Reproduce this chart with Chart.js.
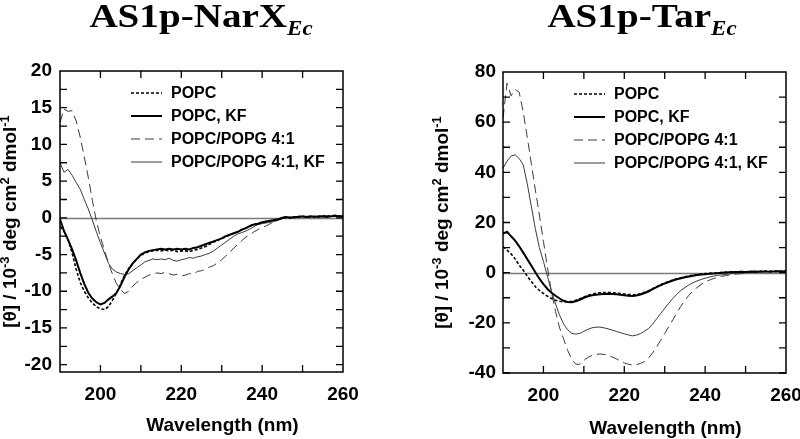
<!DOCTYPE html>
<html>
<head>
<meta charset="utf-8">
<script src="https://cdn.jsdelivr.net/npm/chart.js@4.4.1/dist/chart.umd.min.js"></script>
<style>
  html, body { margin: 0; padding: 0; background: #fff; overflow: hidden; }
  #narx { position: absolute; left: 0; top: 0; }
  #tar { position: absolute; left: 400px; top: 0; }
</style>
</head>
<body>
<canvas id="narx" width="400" height="439"></canvas>
<canvas id="tar" width="420" height="439"></canvas>
<script>
// wavelength (nm), shared by every curve
const wavelength = [190,191,192,193,194,195,196,197,198,199,200,201,202,203,204,205,206,207,208,209,
  210,211,212,213,214,215,216,217,218,219,220,221,222,223,224,225,226,227,228,229,
  230,231,232,233,234,235,236,237,238,239,240,241,242,243,244,245,246,247,248,249,
  250,251,252,253,254,255,256,257,258,259,260];

const seriesLabels = ['POPC', 'POPC, KF', 'POPC/POPG 4:1', 'POPC/POPG 4:1, KF'];

// AS1p-NarX_Ec  ([θ] / 10^-3 deg cm2 dmol-1)
const narxPopc = [-1.2,-1.8,-3.0,-4.8,-7.0,-8.8,-10.0,-10.9,-11.6,-12.1,
  -12.4,-12.5,-12.1,-11.2,-10.2,-9.0,-7.8,-6.9,-6.2,-5.6,
  -5.1,-4.8,-4.6,-4.5,-4.4,-4.5,-4.4,-4.5,-4.4,-4.6,
  -4.5,-4.5,-4.6,-4.4,-4.3,-4.1,-3.9,-3.6,-3.3,-3.1,
  -2.8,-2.6,-2.3,-2.1,-1.9,-1.6,-1.4,-1.1,-0.9,-0.8,
  -0.6,-0.5,-0.4,-0.3,-0.2,0.0,0.1,0.0,0.1,0.2,
  0.1,0.2,0.1,0.2,0.1,0.2,0.3,0.2,0.3,0.2,0.2];
const narxPopcKf = [-0.2,-1.8,-3.0,-4.3,-5.8,-7.5,-9.0,-10.2,-11.0,-11.5,
  -11.8,-11.6,-11.1,-10.7,-10.2,-9.2,-8.0,-7.0,-6.2,-5.6,
  -5.0,-4.7,-4.5,-4.4,-4.3,-4.2,-4.3,-4.2,-4.3,-4.2,
  -4.3,-4.2,-4.3,-4.1,-4.0,-3.8,-3.6,-3.4,-3.2,-3.0,
  -2.8,-2.5,-2.3,-2.1,-1.9,-1.6,-1.4,-1.1,-0.9,-0.8,
  -0.6,-0.5,-0.4,-0.3,-0.2,0.0,0.1,0.0,0.1,0.1,
  0.2,0.1,0.2,0.1,0.2,0.2,0.1,0.2,0.3,0.2,0.2];
const narxPopg = [13.0,14.8,14.5,14.6,13.2,11.0,8.3,5.5,2.4,-0.4,
  -2.6,-4.4,-6.2,-7.7,-9.0,-9.8,-10.3,-10.0,-9.3,-8.8,
  -8.4,-8.1,-7.8,-7.7,-7.5,-7.6,-7.4,-7.6,-7.8,-7.7,
  -7.9,-7.8,-7.6,-7.7,-7.3,-7.2,-7.0,-6.7,-6.5,-6.1,
  -5.7,-5.2,-4.7,-4.1,-3.6,-3.1,-2.6,-2.3,-1.9,-1.6,
  -1.3,-1.1,-0.8,-0.5,-0.3,-0.1,0.0,0.1,0.0,0.1,
  0.2,0.1,0.2,0.1,0.2,0.1,0.2,0.3,0.2,0.2,0.3];
const narxPopgKf = [7.5,6.2,6.6,5.8,4.8,3.9,2.5,1.2,-0.3,-1.9,
  -3.4,-4.8,-6.2,-7.0,-7.4,-7.6,-7.7,-7.6,-7.2,-6.8,
  -6.4,-6.0,-5.8,-5.6,-5.7,-5.6,-5.7,-5.5,-5.8,-5.9,
  -5.7,-5.6,-5.4,-5.5,-5.3,-5.2,-5.0,-4.8,-4.5,-4.1,
  -3.7,-3.3,-2.9,-2.5,-2.2,-2.0,-1.8,-1.5,-1.2,-0.9,
  -0.8,-0.7,-0.6,-0.5,-0.3,-0.1,0.0,0.1,0.0,0.1,
  0.2,0.1,0.2,0.2,0.1,0.2,0.3,0.2,0.2,0.3,0.2];

// AS1p-Tar_Ec
const tarPopc = [10.3,9.0,7.5,5.5,3.0,1.0,-1.4,-3.5,-5.6,-7.1,
  -8.3,-9.4,-10.3,-11.0,-11.4,-11.6,-11.6,-11.4,-11.0,-10.4,
  -9.7,-9.1,-8.6,-8.2,-8.0,-7.9,-7.9,-8.0,-8.1,-8.3,
  -8.5,-8.7,-8.8,-8.7,-8.3,-7.8,-7.2,-6.4,-5.6,-4.8,
  -4.1,-3.5,-2.9,-2.4,-2.0,-1.6,-1.3,-1.0,-0.8,-0.6,
  -0.4,-0.3,-0.2,-0.1,0.0,0.1,0.2,0.2,0.3,0.4,
  0.3,0.4,0.5,0.4,0.5,0.6,0.5,0.5,0.6,0.5,0.6];
const tarPopcKf = [15.6,16.3,14.5,12.8,10.5,8.0,5.4,2.8,0.2,-2.4,
  -4.6,-6.5,-8.0,-9.2,-10.3,-11.2,-11.7,-11.8,-11.4,-10.8,
  -10.0,-9.4,-9.0,-8.8,-8.6,-8.5,-8.4,-8.5,-8.6,-8.8,
  -9.0,-9.2,-9.3,-9.1,-8.7,-8.1,-7.5,-6.6,-5.8,-5.0,
  -4.3,-3.7,-3.1,-2.6,-2.2,-1.8,-1.5,-1.2,-0.9,-0.7,
  -0.6,-0.4,-0.3,-0.2,0.0,0.1,0.2,0.3,0.3,0.4,
  0.3,0.4,0.5,0.4,0.5,0.5,0.4,0.5,0.6,0.5,0.5];
const tarPopg = [61.6,75.5,70.5,73.0,72.0,64.0,54.0,43.5,33.0,23.0,
  12.5,2.0,-8.0,-15.5,-22.0,-26.5,-31.0,-34.5,-36.5,-36.5,
  -35.0,-33.8,-33.0,-32.6,-32.4,-32.6,-33.0,-33.6,-34.3,-35.2,
  -36.0,-36.5,-36.8,-36.7,-36.2,-35.4,-34.0,-32.0,-29.6,-27.0,
  -24.3,-21.5,-18.8,-16.0,-13.4,-11.0,-9.0,-7.3,-5.9,-4.7,
  -3.7,-3.0,-2.4,-1.9,-1.5,-1.2,-0.9,-0.7,-0.5,-0.4,
  -0.2,0.0,0.1,0.2,0.3,0.4,0.5,0.5,0.5,0.6,0.5];
const tarPopgKf = [41.6,44.5,46.5,47.0,45.5,43.0,35.5,26.5,17.5,10.0,
  4.5,-1.5,-7.5,-12.5,-17.0,-20.5,-22.8,-24.2,-24.5,-24.2,
  -23.4,-22.6,-22.0,-21.7,-21.7,-22.0,-22.4,-22.9,-23.4,-23.9,
  -24.4,-24.8,-25.2,-24.9,-24.3,-23.3,-22.3,-20.5,-18.4,-16.3,
  -14.2,-12.2,-10.3,-8.6,-7.1,-5.9,-4.9,-4.0,-3.3,-2.7,
  -2.2,-1.8,-1.4,-1.1,-0.9,-0.7,-0.5,-0.3,-0.2,-0.1,
  0.0,0.1,0.2,0.2,0.3,0.4,0.4,0.5,0.5,0.5,0.5];

// axis ticks
const xTickLabels = [200, 220, 240, 260];
const xTickMarks = [200, 210, 220, 230, 240, 250];
const narxYTicks = [-20, -15, -10, -5, 0, 5, 10, 15, 20];
const narxYMarks = [-20, -17.5, -15, -12.5, -10, -7.5, -5, -2.5, 0, 2.5, 5, 7.5, 10, 12.5, 15, 17.5];
const tarYTicks = [-40, -20, 0, 20, 40, 60, 80];
const tarYMarks = [-40, -30, -20, -10, 0, 10, 20, 30, 40, 50, 60, 70];

const lineStyles = [
    { color: '#000', width: 1.6, dash: [3, 2] },
    { color: '#000', width: 2, dash: [] },
    { color: '#3a3a3a', width: 1, dash: [9, 5] },
    { color: '#3a3a3a', width: 1, dash: [] }
];

const SANS = '"Liberation Sans", Arial, sans-serif';
const SERIF = '"Liberation Serif", "Times New Roman", serif';

// draws a row of text pieces [text, font, dy] centred on x, optionally stretched sideways
function drawRich(ctx, parts, x, y, sx = 1) {
    let total = 0;
    parts.forEach(p => { ctx.font = p[1]; total += ctx.measureText(p[0]).width; });
    ctx.save();
    ctx.translate(x, y);
    ctx.scale(sx, 1);
    let cx = -total / 2;
    ctx.textAlign = 'left';
    parts.forEach(p => {
        ctx.font = p[1];
        ctx.fillText(p[0], cx, p[2]);
        cx += ctx.measureText(p[0]).width;
    });
    ctx.restore();
}

function decorPlugin(cfg) {
    return {
        id: 'decor',
        beforeDatasetsDraw(chart) {
            const { ctx, chartArea: a, scales: { y } } = chart;
            const y0 = Math.round(y.getPixelForValue(0)) + 0.5;
            ctx.save();
            ctx.strokeStyle = '#7a7a7a';
            ctx.lineWidth = 1.5;
            ctx.beginPath();
            ctx.moveTo(a.left, y0);
            ctx.lineTo(a.right, y0);
            ctx.stroke();
            ctx.restore();
        },
        afterDraw(chart) {
            const { ctx, chartArea: a, scales: { x, y } } = chart;
            ctx.save();
            ctx.fillStyle = '#000';
            ctx.strokeStyle = '#000';

            // frame
            ctx.lineWidth = 1.5;
            ctx.strokeRect(a.left, a.top, a.right - a.left, a.bottom - a.top);

            // inward ticks on all four sides
            const tl = 7;
            ctx.lineWidth = 1.3;
            ctx.beginPath();
            xTickMarks.forEach(v => {
                const px = x.getPixelForValue(v);
                ctx.moveTo(px, a.bottom); ctx.lineTo(px, a.bottom - tl);
                ctx.moveTo(px, a.top); ctx.lineTo(px, a.top + tl);
            });
            cfg.yMarks.forEach(v => {
                const py = y.getPixelForValue(v);
                ctx.moveTo(a.left, py); ctx.lineTo(a.left + tl, py);
                ctx.moveTo(a.right, py); ctx.lineTo(a.right - tl, py);
            });
            ctx.stroke();

            // legend
            ctx.textBaseline = 'middle';
            chart.data.datasets.forEach((ds, i) => {
                const ly = a.top + 22 + i * 23;
                ctx.save();
                ctx.strokeStyle = ds.borderColor;
                ctx.lineWidth = ds.borderWidth;
                ctx.setLineDash(ds.borderDash);
                ctx.beginPath();
                ctx.moveTo(a.left + 71, ly);
                ctx.lineTo(a.left + 102, ly);
                ctx.stroke();
                ctx.restore();
                ctx.font = 'bold 16px ' + SANS;
                ctx.textAlign = 'left';
                ctx.fillText(ds.label, a.left + 111, ly + 1);
            });

            // panel title with italic subscript
            ctx.textBaseline = 'alphabetic';
            drawRich(ctx, [
                [cfg.title, 'bold 34px ' + SERIF, 0],
                ['Ec', 'italic bold 20px ' + SERIF, 8]
            ], cfg.titleX, 27, 1.15);

            // x axis title
            drawRich(ctx, [['Wavelength (nm)', 'bold 19px ' + SANS, 0]],
                (a.left + a.right) / 2 + 21, cfg.xTitleY);

            // y axis title, rotated, with superscripts
            ctx.save();
            ctx.translate(cfg.yTitleX, (a.top + a.bottom) / 2);
            ctx.rotate(-Math.PI / 2);
            ctx.textBaseline = 'middle';
            const main = 'bold 19px ' + SANS;
            const sup = 'bold 13px ' + SANS;
            drawRich(ctx, [
                ['[\u03b8] / 10', main, 0],
                ['-3', sup, -6],
                [' deg cm', main, 0],
                ['2', sup, -6],
                [' dmol', main, 0],
                ['-1', sup, -6]
            ], 0, 0);
            ctx.restore();

            ctx.restore();
        }
    };
}

function makePanel(canvasId, cfg) {
    return new Chart(document.getElementById(canvasId), {
        type: 'line',
        data: {
            datasets: cfg.series.map((vals, i) => ({
                label: seriesLabels[i],
                data: wavelength.map((w, j) => ({ x: w, y: vals[j] })),
                borderColor: lineStyles[i].color,
                borderWidth: lineStyles[i].width,
                borderDash: lineStyles[i].dash,
                pointRadius: 0,
                tension: 0,
                fill: false
            }))
        },
        options: {
            responsive: false,
            animation: false,
            layout: { padding: { top: cfg.top, right: cfg.right, left: 0, bottom: 0 } },
            plugins: { legend: { display: false }, tooltip: { enabled: false } },
            scales: {
                x: {
                    type: 'linear',
                    min: 190,
                    max: 260,
                    grid: { display: false, drawTicks: false },
                    border: { display: false },
                    afterBuildTicks: s => { s.ticks = xTickLabels.map(v => ({ value: v })); },
                    afterFit: s => { s.height = 439 - cfg.bottom; s.paddingLeft = 0; s.paddingRight = 0; },
                    ticks: {
                        color: '#000',
                        autoSkip: false,
                        maxRotation: 0,
                        padding: 11,
                        font: { family: SANS, size: 19, weight: 'bold' }
                    }
                },
                y: {
                    type: 'linear',
                    min: cfg.yMin,
                    max: cfg.yMax,
                    grid: { display: false, drawTicks: false },
                    border: { display: false },
                    afterBuildTicks: s => { s.ticks = cfg.yTicks.map(v => ({ value: v })); },
                    afterFit: s => { s.width = cfg.left; s.paddingTop = 0; s.paddingBottom = 0; },
                    ticks: {
                        color: '#000',
                        autoSkip: false,
                        padding: cfg.yPad,
                        font: { family: SANS, size: 19, weight: 'bold' }
                    }
                }
            }
        },
        plugins: [decorPlugin(cfg)]
    });
}

makePanel('narx', {
    series: [narxPopc, narxPopcKf, narxPopg, narxPopgKf],
    title: 'AS1p-NarX', titleX: 201,
    yMin: -21, yMax: 20, yTicks: narxYTicks, yMarks: narxYMarks,
    left: 60, right: 57, top: 71, bottom: 372,
    yPad: 8, yTitleX: 11, xTitleY: 431
});

makePanel('tar', {
    series: [tarPopc, tarPopcKf, tarPopg, tarPopgKf],
    title: 'AS1p-Tar', titleX: 242,
    yMin: -40, yMax: 80, yTicks: tarYTicks, yMarks: tarYMarks,
    left: 103, right: 34, top: 72, bottom: 373,
    yPad: 7, yTitleX: 43, xTitleY: 434
});
</script>
</body>
</html>
